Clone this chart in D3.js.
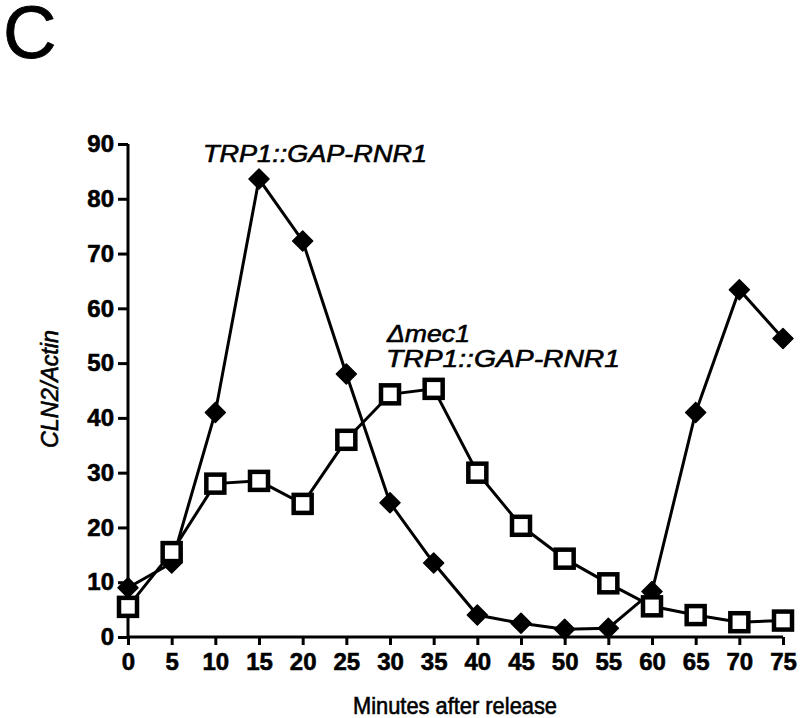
<!DOCTYPE html>
<html><head><meta charset="utf-8">
<script src="https://cdn.jsdelivr.net/npm/d3@7"></script>
<style>body{margin:0;background:#fff;} svg{display:block;}</style>
</head><body>
<svg id="chart" width="800" height="718"></svg>
<script>
const minutes = [0,5,10,15,20,25,30,35,40,45,50,55,60,65,70,75];
const trp1Values = [9,13.5,41,83.6,72.3,48,24.5,13.5,4,2.5,1.4,1.6,8.3,41,63.4,54.5];
const mec1Values = [5.5,15.5,28,28.5,24.3,36,44.3,45.3,30,20.3,14.3,9.8,5.6,4,2.7,3];
const yTicks = [0,10,20,30,40,50,60,70,80,90];
const xTicks = minutes;

const svg = d3.select("#chart");
const x = d3.scaleLinear().domain([0,75]).range([128,783]);
const y = d3.scaleLinear().domain([0,90]).range([637,144]);
const font = "'Liberation Sans', Arial, Helvetica, sans-serif";

// panel letter
svg.append("text").attr("x",3).attr("y",58).attr("font-family",font)
  .attr("font-size",74).attr("stroke","#000").attr("stroke-width",0.8).text("C");

// axes
const yAxis = d3.axisLeft(y).tickValues(yTicks).tickSize(10).tickPadding(4);
const xAxis = d3.axisBottom(x).tickValues(xTicks).tickSize(8).tickPadding(8);
const gy = svg.append("g").attr("transform","translate(128,0)").call(yAxis);
const gx = svg.append("g").attr("transform","translate(0,637)").call(xAxis);
[gy,gx].forEach(g=>{
  g.select(".domain").attr("stroke","#000").attr("stroke-width",3);
  g.selectAll(".tick line").attr("stroke","#000").attr("stroke-width",3);
  g.selectAll(".tick text").attr("font-family",font).attr("font-weight","bold")
    .attr("font-size",24).attr("fill","#000").attr("stroke","#000").attr("stroke-width",0.6);
});
gy.select(".domain").attr("d","M0,"+y(90)+"V"+y(0));
gx.select(".domain").attr("d","M"+x(0)+",0H"+x(75));

// axis labels
svg.append("text").attr("transform","translate(58,389) rotate(-90)")
  .attr("text-anchor","middle").attr("font-family",font).attr("font-style","italic")
  .attr("font-size",23).attr("stroke","#000").attr("stroke-width",0.6)
  .attr("textLength",118).attr("lengthAdjust","spacingAndGlyphs").text("CLN2/Actin");
svg.append("text").attr("x",455).attr("y",714).attr("text-anchor","middle")
  .attr("font-family",font).attr("font-size",24).attr("stroke","#000").attr("stroke-width",0.6)
  .attr("textLength",204).attr("lengthAdjust","spacingAndGlyphs").text("Minutes after release");

const line = d3.line().x(d=>x(d[0])).y(d=>y(d[1]));
const trpData = minutes.map((m,i)=>[m,trp1Values[i]]);
const mecData = minutes.map((m,i)=>[m,mec1Values[i]]);

svg.append("path").datum(trpData).attr("d",line).attr("fill","none")
  .attr("stroke","#000").attr("stroke-width",3);
svg.append("path").datum(mecData).attr("d",line).attr("fill","none")
  .attr("stroke","#000").attr("stroke-width",3);

// diamonds
svg.selectAll(".dia").data(trpData).enter().append("path")
  .attr("transform",d=>`translate(${x(d[0])},${y(d[1])})`)
  .attr("d","M0,-10L10,0L0,10L-10,0Z").attr("fill","#000")
  .attr("stroke","#000").attr("stroke-width",1.5).attr("stroke-linejoin","round");

// squares
svg.selectAll(".sq").data(mecData).enter().append("rect")
  .attr("x",d=>x(d[0])-9).attr("y",d=>y(d[1])-9).attr("width",18).attr("height",18)
  .attr("fill","#fff").attr("stroke","#000").attr("stroke-width",4.5);

// series labels
svg.append("text").attr("x",203).attr("y",162).attr("font-family",font)
  .attr("font-style","italic").attr("font-size",24).attr("stroke","#000").attr("stroke-width",0.6)
  .attr("textLength",224).attr("lengthAdjust","spacingAndGlyphs").text("TRP1::GAP-RNR1");
svg.append("text").attr("x",387).attr("y",342).attr("font-family",font)
  .attr("font-style","italic").attr("font-size",24).attr("stroke","#000").attr("stroke-width",0.6)
  .attr("textLength",83).attr("lengthAdjust","spacingAndGlyphs").text("\u0394mec1");
svg.append("text").attr("x",386).attr("y",367).attr("font-family",font)
  .attr("font-style","italic").attr("font-size",24).attr("stroke","#000").attr("stroke-width",0.6)
  .attr("textLength",234).attr("lengthAdjust","spacingAndGlyphs").text("TRP1::GAP-RNR1");
</script>
</body></html>
